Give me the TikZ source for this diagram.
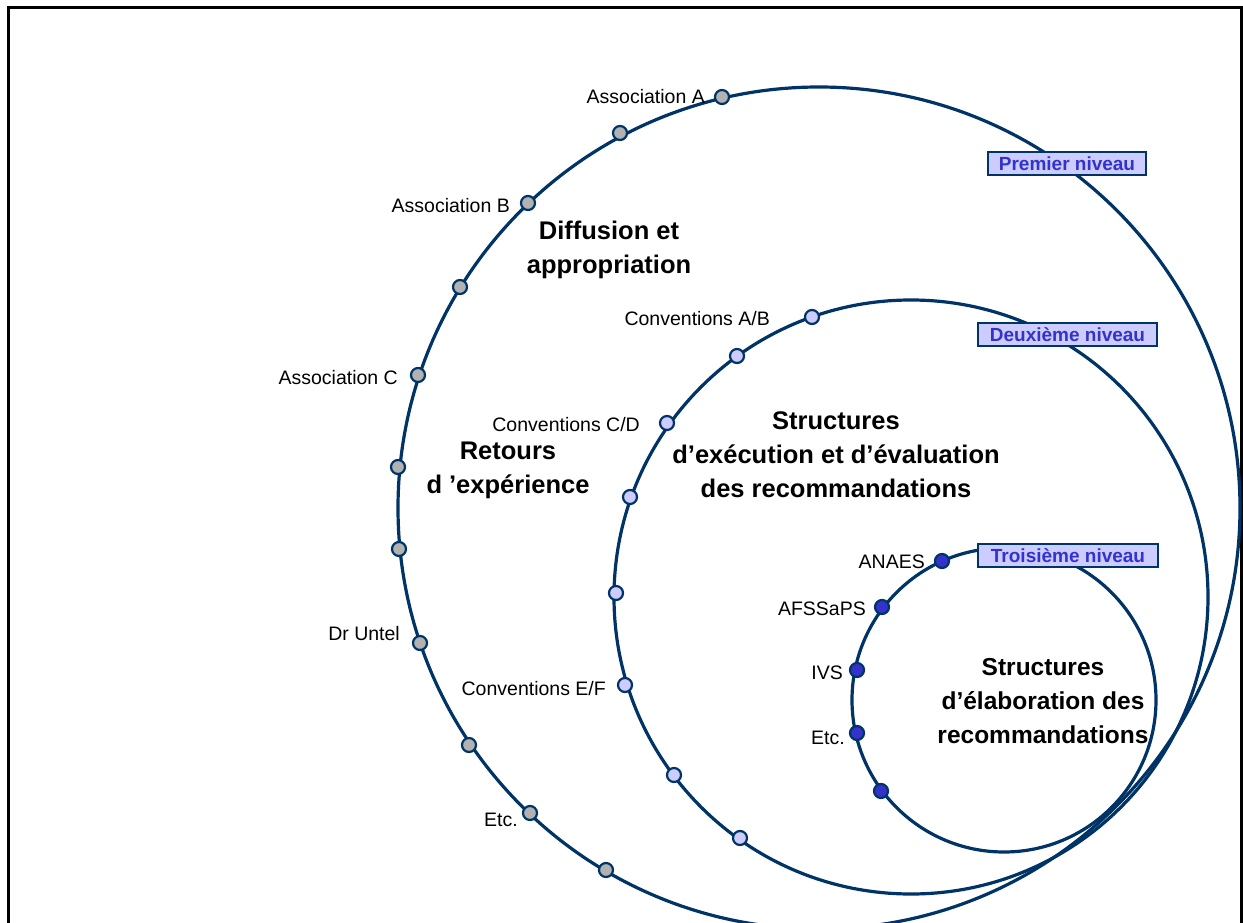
\documentclass[tikz,border=0pt]{standalone}
\usepackage{fontspec}
\setmainfont{Liberation Sans}
\definecolor{navy}{HTML}{003366}
\definecolor{lav}{HTML}{CCCCFF}
\definecolor{tblue}{HTML}{3333CC}
\definecolor{dotgray}{HTML}{B2B2B2}
\tikzset{
  ring/.style={draw=navy, line width=3.2pt},
  dotbase/.style={circle, draw=navy, line width=2.2pt, minimum size=14pt, inner sep=0pt},
  dotA/.style={dotbase, fill=dotgray},
  dotB/.style={dotbase, fill=lav},
  dotC/.style={dotbase, fill=tblue},
  lab/.style={anchor=east, inner sep=2pt, font=\fontsize{19.5}{22}\selectfont},
  big/.style={align=center, font=\fontsize{25.5}{34}\selectfont\bfseries},
  levelbox/.style={draw=navy, line width=2.5pt, fill=lav, text=tblue, inner xsep=4pt, inner ysep=0pt, minimum height=23pt, font=\fontsize{19}{22}\selectfont\bfseries}
}
\begin{document}
\begin{tikzpicture}[x=1pt,y=-1pt]
\useasboundingbox (0,0) rectangle (1243,923);
\clip (0,0) rectangle (1243,923);
\fill[white] (0,0) rectangle (1243,923);
% frame
\draw[line width=3pt] (8,930) -- (8,7.5) -- (1241,7.5) -- (1241,930);
% rings
\draw[ring] (819,508) circle[radius=421pt];
\draw[ring] (911,597) circle[radius=297pt];
\draw[ring] (1004,700) circle[radius=152pt];
% outer ring dots
\node[dotA] (a1) at (722,97) {};
\node[dotA] (a2) at (620,133) {};
\node[dotA] (a3) at (528,203) {};
\node[dotA] (a4) at (460,287) {};
\node[dotA] (a5) at (418,375) {};
\node[dotA] (a6) at (398,467) {};
\node[dotA] (a7) at (399,549) {};
\node[dotA] (a8) at (420,643) {};
\node[dotA] (a9) at (469,745) {};
\node[dotA] (a10) at (530,813) {};
\node[dotA] (a11) at (606,870) {};
% middle ring dots
\node[dotB] (b1) at (812,317) {};
\node[dotB] (b2) at (737,356) {};
\node[dotB] (b3) at (667,423) {};
\node[dotB] (b4) at (630,497) {};
\node[dotB] (b5) at (616,593) {};
\node[dotB] (b6) at (625,685) {};
\node[dotB] (b7) at (674,775) {};
\node[dotB] (b8) at (740,838) {};
% inner ring dots
\node[dotC] (c1) at (942,561) {};
\node[dotC] (c2) at (882,607) {};
\node[dotC] (c3) at (857,670) {};
\node[dotC] (c4) at (857,733) {};
\node[dotC] (c5) at (881,791) {};
% small labels
\node[lab] (lA) at (707,97) {Association A};
\node[lab] (lB) at (512,206) {Association B};
\node[lab] (lC) at (400,378) {Association C};
\node[lab] (lD) at (402,634) {Dr Untel};
\node[lab] (lE) at (520,820) {Etc.};
\node[lab] (lCAB) at (772,319) {Conventions A/B};
\node[lab] (lCCD) at (642,425) {Conventions C/D};
\node[lab] (lCEF) at (608,689) {Conventions E/F};
\node[lab] (lAN) at (927,562) {ANAES};
\node[lab] (lAF) at (868,609) {AFSSaPS};
\node[lab] (lIV) at (845,673) {IVS};
\node[lab] (lEt) at (847,738) {Etc.};
% big labels
\node[big] (t1) at (609,250) {Diffusion et\\appropriation};
\node[big] (t2) at (508,470) {Retours\\d 'expérience};
\node[big] (t3) at (836,455) {Structures\\d’exécution et d’évaluation\\des recommandations};
\node[big, font=\fontsize{24.5}{34}\selectfont\bfseries] (t4) at (1043,701) {Structures\\d’élaboration des\\recommandations};
% level boxes
\node[levelbox, minimum width=158pt] (n1) at (1067,163.5) {Premier niveau};
\node[levelbox, minimum width=179pt] (n2) at (1067.5,334.5) {Deuxième niveau};
\node[levelbox, minimum width=180pt] (n3) at (1068,555.5) {Troisième niveau};
\end{tikzpicture}
\end{document}
